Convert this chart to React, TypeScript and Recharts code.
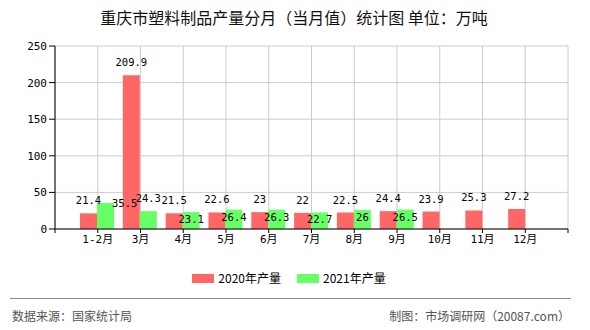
import React from 'react';
import { BarChart, Bar, XAxis, YAxis, CartesianGrid, Legend } from 'recharts';

const months = ['1-2月', '3月', '4月', '5月', '6月', '7月', '8月', '9月', '10月', '11月', '12月'];
const positions = [1, 2, 3, 4, 5, 6, 7, 8, 9, 10, 11];
const output2020 = [21.4, 209.9, 21.5, 22.6, 23, 22, 22.5, 24.4, 23.9, 25.3, 27.2];
const output2021: (number | null)[] = [35.5, 24.3, 23.1, 26.4, 26.3, 22.7, 26, 26.5, null, null, null];
const yTicks = [0, 50, 100, 150, 200, 250];
const xTicks = [0, 1, 2, 3, 4, 5, 6, 7, 8, 9, 10, 11, 12];

const data = months.map((m, i) => ({
  month: m,
  pos: positions[i],
  y2020: output2020[i],
  y2021: output2021[i],
}));

const CJK = '"Noto Sans CJK SC", sans-serif';
const MONO = '"DejaVu Sans Mono", "Noto Sans CJK SC", monospace';

const getBox = (props: any) => {
  const vb = props.viewBox && props.viewBox.x != null ? props.viewBox : props;
  return { x: Number(vb.x), y: Number(vb.y), width: Number(vb.width) };
};

const RedLabel = (props: any) => {
  const { value } = props;
  if (value == null) return null;
  const { x, y, width } = getBox(props);
  return (
    <text x={x + width / 2} y={y - 9} textAnchor="middle" fontSize={10.5} fontFamily={MONO} fill="#000">
      {value}
    </text>
  );
};

const GreenLabel = (props: any) => {
  const { value, index } = props;
  if (value == null) return null;
  const { x, y, width } = getBox(props);
  let tx = x + width / 2;
  let ty = y + 11;
  let anchor: 'middle' | 'start' = 'middle';
  if (index === 0) {
    tx = x + width - 2;
    ty = y + 4;
    anchor = 'start';
  } else if (index === 1) {
    ty = y - 9;
  }
  return (
    <text x={tx} y={ty} textAnchor={anchor} fontSize={10.5} fontFamily={MONO} fill="#000">
      {value}
    </text>
  );
};

const renderLegend = (props: any) => {
  const { payload = [] } = props;
  return (
    <div style={{ display: 'flex', justifyContent: 'center', alignItems: 'center', fontFamily: CJK, fontSize: 12, color: '#000', height: 16 }}>
      {payload.map((p: any, i: number) => (
        <div key={i} style={{ display: 'flex', alignItems: 'center', marginLeft: i ? 16 : 0 }}>
          <span style={{ display: 'inline-block', width: 22, height: 9, background: p.color, marginRight: 4 }} />
          <span style={{ lineHeight: '16px' }}>{p.value}</span>
        </div>
      ))}
    </div>
  );
};

export default function App() {
  return (
    <div style={{ position: 'absolute', left: 0, top: 0, width: 590, height: 330, background: '#fff', overflow: 'hidden' }}>
      <div
        style={{
          position: 'absolute',
          top: 7,
          left: 0,
          width: 588,
          textAlign: 'center',
          fontFamily: CJK,
          fontSize: 16,
          lineHeight: '21px',
          color: '#111',
        }}
      >
        重庆市塑料制品产量分月（当月值）统计图 单位：万吨
      </div>
      <BarChart
        width={590}
        height={330}
        data={data}
        margin={{ top: 46, right: 22, left: 10, bottom: 71 }}
        barSize={17}
        barGap={0}
      >
        <CartesianGrid xAxisId="num" stroke="#cccccc" strokeWidth={1} />
        <XAxis
          xAxisId="cat"
          dataKey="month"
          type="category"
          hide
          height={0}
          orientation="top"
          padding={{ left: 21, right: 21 }}
        />
        <XAxis
          xAxisId="num"
          dataKey="pos"
          type="number"
          domain={[0, 12]}
          ticks={xTicks}
          interval={0}
          allowDataOverflow
          height={30}
          tickSize={4}
          tickMargin={2}
          axisLine={{ stroke: '#000' }}
          tickLine={{ stroke: '#000' }}
          tick={{ fill: '#000', fontSize: 11, fontFamily: MONO }}
          tickFormatter={(v: number) => (v >= 1 && v <= months.length ? months[v - 1] : '')}
        />
        <YAxis
          domain={[0, 250]}
          ticks={yTicks}
          width={45}
          tickSize={6}
          tickMargin={2}
          axisLine={{ stroke: '#000' }}
          tickLine={{ stroke: '#000' }}
          tick={{ fill: '#000', fontSize: 11, fontFamily: MONO }}
        />
        <Legend
          verticalAlign="middle"
          align="center"
          layout="horizontal"
          content={renderLegend}
          wrapperStyle={{ top: 270, left: -6, width: 590, height: 16 }}
        />
        <Bar xAxisId="cat" dataKey="y2020" name="2020年产量" fill="#ff6666" isAnimationActive={false} label={RedLabel} />
        <Bar xAxisId="cat" dataKey="y2021" name="2021年产量" fill="#66ff66" isAnimationActive={false} label={GreenLabel} />
      </BarChart>
      <div style={{ position: 'absolute', top: 298, left: 10, width: 561, height: 0, borderTop: '1px solid #888' }} />
      <div style={{ position: 'absolute', top: 308, left: 12, fontFamily: CJK, fontSize: 12, lineHeight: '16px', color: '#555' }}>
        数据来源：国家统计局
      </div>
      <div style={{ position: 'absolute', top: 308, right: 20, fontFamily: CJK, fontSize: 12, lineHeight: '16px', color: '#555' }}>
        制图：市场调研网（20087.com）
      </div>
    </div>
  );
}
